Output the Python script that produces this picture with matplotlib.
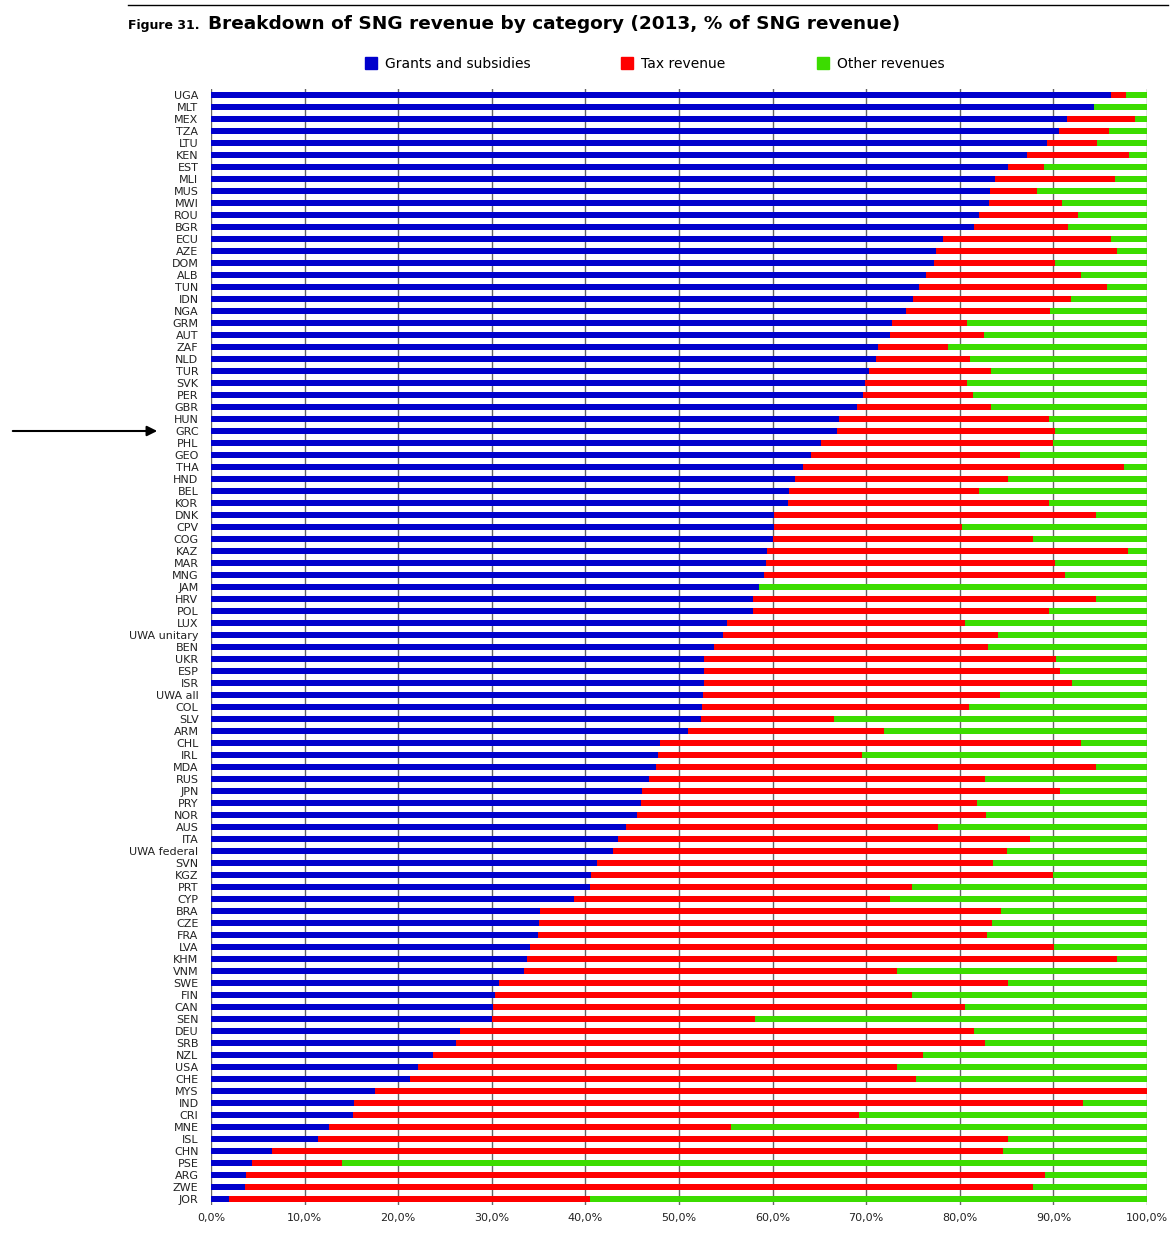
"""Figure 31 - breakdown of SNG revenue by category (2013)."""

import numpy as np
import matplotlib
matplotlib.use('Agg')
import matplotlib.pyplot as plt
from matplotlib.lines import Line2D

# Countries from top to bottom
countries = ['UGA', 'MLT', 'MEX', 'TZA', 'LTU', 'KEN', 'EST', 'MLI', 'MUS', 'MWI',
             'ROU', 'BGR', 'ECU', 'AZE', 'DOM', 'ALB', 'TUN', 'IDN', 'NGA', 'GRM',
             'AUT', 'ZAF', 'NLD', 'TUR', 'SVK', 'PER', 'GBR', 'HUN', 'GRC', 'PHL',
             'GEO', 'THA', 'HND', 'BEL', 'KOR', 'DNK', 'CPV', 'COG', 'KAZ', 'MAR',
             'MNG', 'JAM', 'HRV', 'POL', 'LUX', 'UWA unitary', 'BEN', 'UKR', 'ESP',
             'ISR', 'UWA all', 'COL', 'SLV', 'ARM', 'CHL', 'IRL', 'MDA', 'RUS',
             'JPN', 'PRY', 'NOR', 'AUS', 'ITA', 'UWA federal', 'SVN', 'KGZ', 'PRT',
             'CYP', 'BRA', 'CZE', 'FRA', 'LVA', 'KHM', 'VNM', 'SWE', 'FIN', 'CAN',
             'SEN', 'DEU', 'SRB', 'NZL', 'USA', 'CHE', 'MYS', 'IND', 'CRI', 'MNE',
             'ISL', 'CHN', 'PSE', 'ARG', 'ZWE', 'JOR']

# % of SNG revenue
grants = [96.2, 94.3, 91.4, 90.6, 89.3, 87.2, 85.1, 83.8, 83.2, 83.1,
          82.0, 81.5, 78.2, 77.5, 77.2, 76.4, 75.6, 75.0, 74.2, 72.8,
          72.5, 71.3, 71.1, 70.3, 69.9, 69.7, 69.0, 67.1, 66.9, 65.2,
          64.1, 63.3, 62.4, 61.7, 61.6, 60.2, 60.1, 60.0, 59.4, 59.3,
          59.1, 58.6, 57.9, 57.9, 55.1, 54.7, 53.7, 52.7, 52.7,
          52.7, 52.6, 52.5, 52.3, 51.0, 48.0, 47.8, 47.5, 46.8,
          46.1, 45.9, 45.5, 44.3, 43.5, 43.0, 41.2, 40.6, 40.5,
          38.8, 35.1, 35.0, 34.9, 34.1, 33.8, 33.4, 30.8, 30.3, 30.1,
          30.0, 26.6, 26.2, 23.7, 22.1, 21.3, 17.5, 15.3, 15.2, 12.6,
          11.4, 6.5, 4.4, 3.7, 3.6, 1.9]
tax = [1.6, 0.0, 7.3, 5.3, 5.4, 10.9, 3.9, 12.8, 5.1, 7.8,
       10.6, 10.1, 18.0, 19.3, 13.0, 16.5, 20.1, 16.9, 15.4, 8.0,
       10.1, 7.4, 10.0, 13.0, 10.9, 11.7, 14.3, 22.4, 23.3, 24.8,
       22.3, 34.2, 22.8, 20.3, 27.9, 34.3, 20.1, 27.8, 38.6, 30.9,
       32.1, 0.0, 36.6, 31.6, 25.5, 29.4, 29.3, 37.6, 38.0,
       39.3, 31.7, 28.5, 14.3, 20.9, 45.0, 21.7, 47.0, 35.9,
       44.6, 35.9, 37.3, 33.4, 44.0, 42.0, 42.4, 49.4, 34.4,
       33.7, 49.3, 48.4, 48.0, 56.0, 63.0, 39.9, 54.4, 44.6, 50.5,
       28.1, 54.9, 56.5, 52.4, 51.2, 54.0, 82.5, 77.9, 54.0, 43.0,
       73.8, 78.1, 9.6, 85.4, 84.2, 38.6]

BLUE = '#0000CC'
RED = '#FF0000'
GREEN = '#3CDC00'

W, H = 1173, 1237
fig = plt.figure(figsize=(W / 100, H / 100), dpi=100)
ax = fig.add_axes([211 / W, 1 - 1205 / H, (1147 - 211) / W, (1205 - 89) / H])

g = np.array(grants)
t = np.array(tax)
o = 100 - g - t
y = np.arange(len(countries))

ax.barh(y, g, height=0.5, color=BLUE, zorder=2)
ax.barh(y, t, left=g, height=0.5, color=RED, zorder=2)
ax.barh(y, o, left=g + t, height=0.5, color=GREEN, zorder=2)

ax.set_ylim(len(countries) - 0.5, -0.5)
ax.set_yticks(y)
ax.set_yticklabels(countries, fontsize=8, color='#222222')
ax.set_xlim(0, 100)
ticks = np.arange(0, 101, 10)
ax.set_xticks(ticks)
ax.set_xticklabels([f'{v:.1f}%'.replace('.', ',') for v in ticks], fontsize=8,
                   color='#222222')
ax.tick_params(axis='y', length=0, pad=9)
ax.tick_params(axis='x', length=0, pad=6)
for s in ax.spines.values():
    s.set_visible(False)
for v in ticks:
    ax.axvline(v, color='#666666', lw=1, zorder=1)

# top rule and title
fig.add_artist(Line2D([128 / W, 1168 / W], [1 - 5 / H] * 2, color='black', lw=1))
fig.text(128 / W, 1 - 25 / H, 'Figure 31.', fontsize=9, va='center',
         fontweight='semibold')
fig.text(208 / W, 1 - 24 / H,
         'Breakdown of SNG revenue by category (2013, % of SNG revenue)',
         fontsize=13.3, fontweight='bold', va='center')

# legend
handles = [Line2D([], [], marker='s', ls='', color=c, markersize=8)
           for c in (BLUE, RED, GREEN)]
fig.legend(handles, ['Grants and subsidies', 'Tax revenue', 'Other revenues'],
           loc='center', bbox_to_anchor=(654 / W, 1 - 64 / H), ncol=3,
           frameon=False, fontsize=10, handlelength=1, handletextpad=0.5,
           columnspacing=6.5)

# arrow pointing at GRC
ax.annotate('', xy=(160 / W, 1 - 431 / H), xytext=(10 / W, 1 - 431 / H),
            xycoords='figure fraction', textcoords='figure fraction',
            arrowprops=dict(arrowstyle='-|>', color='black', lw=1.5,
                            mutation_scale=15))

fig.savefig('out.png', dpi=100)
print('Saved out.png')
